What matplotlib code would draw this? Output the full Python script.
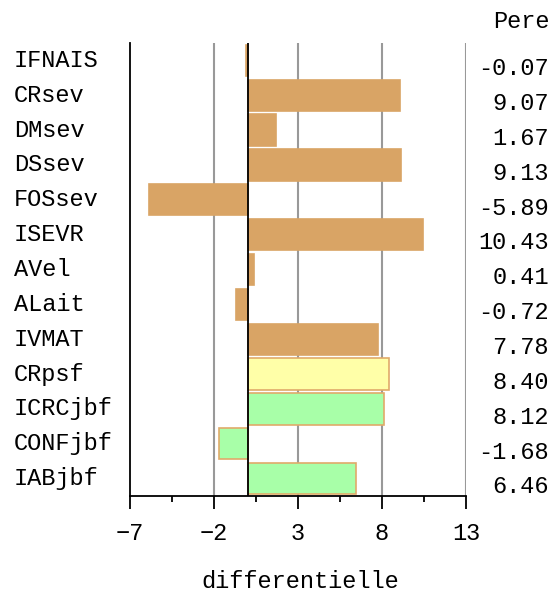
import numpy as np
import matplotlib
matplotlib.use('Agg')
import matplotlib.pyplot as plt
from matplotlib.ticker import FixedLocator

plt.rcParams['font.family'] = ['Liberation Mono', 'DejaVu Sans Mono']

# Data
labels = ['IFNAIS', 'CRsev', 'DMsev', 'DSsev', 'FOSsev', 'ISEVR', 'AVel',
          'ALait', 'IVMAT', 'CRpsf', 'ICRCjbf', 'CONFjbf', 'IABjbf']
values = [-0.07, 9.07, 1.67, 9.13, -5.89, 10.43, 0.41,
          -0.72, 7.78, 8.40, 8.12, -1.68, 6.46]
groups = ['a'] * 9 + ['b'] + ['c'] * 3
x_ticks = [-7, -2, 3, 8, 13]
x_label = 'differentielle'
right_title = 'Pere'

face = {'a': '#D9A465', 'b': '#FFFFA8', 'c': '#A8FFA8'}
edge = {'a': '#D9A465', 'b': '#E0AA6A', 'c': '#E0AA6A'}

W, H = 554, 594
fs = 17
fig = plt.figure(figsize=(W / 100, H / 100), dpi=100)
ax = fig.add_axes([130 / W, 1 - 496 / H, 336 / W, 453 / H])

y = np.arange(len(labels))
for g in ['a', 'b', 'c']:
    m = np.array([gg == g for gg in groups])
    ax.barh(y[m], np.array(values)[m], height=0.9, color=face[g],
            edgecolor=edge[g], linewidth=1.2, zorder=2)

ax.set_xlim(-7, 13)
ax.set_ylim(12.5, -0.5)

for xv in x_ticks[1:]:
    ax.axvline(xv, color='#999999', linewidth=1.5, zorder=1)
ax.axvline(0, color='black', linewidth=1.3, zorder=3)

for s in ['top', 'right']:
    ax.spines[s].set_visible(False)
ax.spines['left'].set_linewidth(1.3)
ax.spines['bottom'].set_linewidth(1.3)

ax.set_yticks([])
ax.xaxis.set_major_locator(FixedLocator(x_ticks))
ax.xaxis.set_minor_locator(FixedLocator([-4.5, 0.5, 5.5, 10.5]))
ax.tick_params(axis='x', which='major', length=9, width=1.3, labelsize=fs,
               pad=10)
ax.tick_params(axis='x', which='minor', length=4, width=1.3)

fig.text(300 / W, 1 - 582 / H, x_label, ha='center', va='center', fontsize=fs)

for i, (lab, v) in enumerate(zip(labels, values)):
    ax.annotate(lab, xy=(14 / W, i), xycoords=('figure fraction', 'data'),
                ha='left', va='center', fontsize=fs)
    ax.annotate(f'{v:.2f}', xy=(549 / W, i), xycoords=('figure fraction', 'data'),
                xytext=(0, -6), textcoords='offset points',
                ha='right', va='center', fontsize=fs)

fig.text(493 / W, 1 - 22 / H, right_title, ha='left', va='center', fontsize=fs)

fig.savefig('out.png', dpi=100)
